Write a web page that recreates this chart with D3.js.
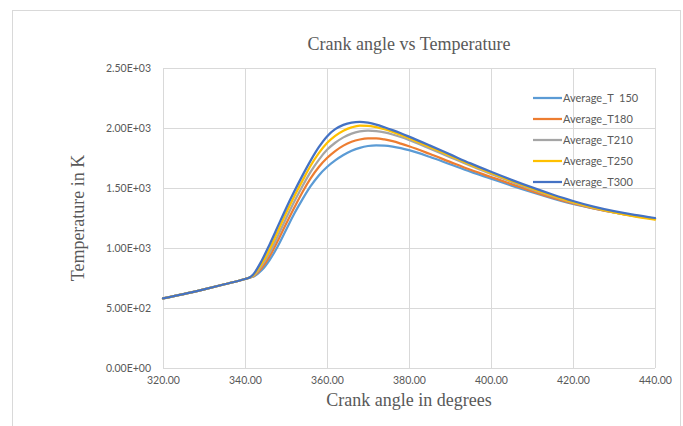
<!DOCTYPE html>
<html>
<head>
<meta charset="utf-8">
<script src="https://cdn.jsdelivr.net/npm/d3@7"></script>
<style>
  html, body { margin: 0; padding: 0; background: #ffffff; }
  svg { display: block; }
</style>
</head>
<body>
<svg id="chart" width="683" height="426"></svg>
<script>
// Crank angle (degrees) at which temperatures were sampled
const crankAngle = [320, 325, 330, 335, 340, 341,
  342, 344, 346, 348, 350, 352, 354, 356, 358, 360, 362, 364, 366, 368, 370,
  372, 374, 376, 378, 380, 385, 390, 395, 400, 405, 410, 415, 420, 425, 430, 435, 440];

// Compression stroke, common to every case
const compression = [580, 615, 655, 698, 742, 752];

// Average in-cylinder temperature (K) for each case
const avgT150 = compression.concat([760, 812, 900, 1015, 1150, 1285, 1405, 1515, 1605, 1675, 1730, 1775, 1810, 1835, 1850,
  1855, 1853, 1845, 1832, 1815, 1760, 1698, 1636, 1578, 1520, 1465, 1414, 1368, 1330, 1297, 1269, 1244]);
const avgT180 = compression.concat([764, 830, 930, 1060, 1200, 1335, 1465, 1580, 1675, 1750, 1808, 1853, 1885, 1904, 1913,
  1913, 1905, 1890, 1870, 1848, 1785, 1718, 1652, 1592, 1532, 1474, 1420, 1372, 1331, 1296, 1267, 1242]);
const avgT210 = compression.concat([768, 850, 960, 1100, 1245, 1385, 1515, 1635, 1735, 1818, 1877, 1922, 1953, 1971, 1978,
  1974, 1963, 1946, 1925, 1900, 1830, 1757, 1685, 1617, 1551, 1489, 1431, 1378, 1334, 1297, 1266, 1241]);
const avgT250 = compression.concat([772, 865, 990, 1140, 1290, 1430, 1560, 1685, 1790, 1875, 1935, 1978, 2005, 2019, 2018,
  2007, 1990, 1968, 1943, 1915, 1843, 1768, 1694, 1625, 1558, 1495, 1436, 1382, 1336, 1297, 1264, 1237]);
const avgT300 = compression.concat([780, 890, 1030, 1180, 1330, 1470, 1603, 1728, 1840, 1930, 1990, 2026, 2045, 2051, 2044,
  2028, 2006, 1982, 1956, 1928, 1855, 1780, 1705, 1635, 1568, 1505, 1446, 1392, 1345, 1307, 1276, 1250]);

const seriesNames = ["Average_T  150", "Average_T180", "Average_T210", "Average_T250", "Average_T300"];
const seriesValues = [avgT150, avgT180, avgT210, avgT250, avgT300];
const seriesColors = ["#5B9BD5", "#ED7D31", "#A5A5A5", "#FFC000", "#4472C4"];

const xTicks = [320, 340, 360, 380, 400, 420, 440];
const yTicks = [0, 500, 1000, 1500, 2000, 2500];

const titleText = "Crank angle vs Temperature";
const xTitle = "Crank angle in degrees";
const yTitle = "Temperature in K";

// ---- layout ----
const svg = d3.select("#chart");
const plot = { left: 163, top: 68, width: 492, height: 300 };
const grey = "#595959";
const gridColor = "#d9d9d9";
const tickFont = "Lato, 'Liberation Sans', sans-serif";
const serifFont = "'Liberation Serif', 'DejaVu Serif', serif";

// outer chart frame
svg.append("rect")
  .attr("x", 12.5).attr("y", 10.5)
  .attr("width", 668).attr("height", 430)
  .attr("fill", "#fff").attr("stroke", gridColor).attr("stroke-width", 1);

const x = d3.scaleLinear().domain([320, 440]).range([plot.left, plot.left + plot.width]);
const y = d3.scaleLinear().domain([0, 2500]).range([plot.top + plot.height, plot.top]);

const g = svg.append("g");

// gridlines and tick labels
const xAxis = d3.axisBottom(x).tickValues(xTicks).tickSize(-plot.height).tickPadding(9)
  .tickFormat(d3.format(".2f"));
g.append("g")
  .attr("transform", `translate(0,${plot.top + plot.height})`)
  .call(xAxis)
  .call(a => a.select(".domain").remove())
  .call(a => a.selectAll("line").attr("stroke", gridColor))
  .call(a => a.selectAll("text").attr("fill", grey)
    .style("font-family", tickFont).style("font-size", "10.5px"));

const expFmt = v => {
  if (v === 0) return "0.00E+00";
  const e = Math.floor(Math.log10(v));
  const m = v / Math.pow(10, e);
  return m.toFixed(2) + "E+" + String(e).padStart(2, "0");
};
const yAxis = d3.axisLeft(y).tickValues(yTicks).tickSize(-plot.width).tickPadding(12)
  .tickFormat(expFmt);
g.append("g")
  .attr("transform", `translate(${plot.left},0)`)
  .call(yAxis)
  .call(a => a.select(".domain").remove())
  .call(a => a.selectAll("line").attr("stroke", gridColor))
  .call(a => a.selectAll("text").attr("fill", grey)
    .style("font-family", tickFont).style("font-size", "10.5px"));

// series lines
const line = d3.line()
  .x((d, i) => x(crankAngle[i]))
  .y(d => y(d))
  .curve(d3.curveMonotoneX);

seriesValues.forEach((vals, k) => {
  g.append("path")
    .datum(vals)
    .attr("fill", "none")
    .attr("stroke", seriesColors[k])
    .attr("stroke-width", 2.25)
    .attr("stroke-linejoin", "round")
    .attr("stroke-linecap", "round")
    .attr("d", line);
});

// title and axis titles
svg.append("text")
  .attr("x", plot.left + plot.width / 2).attr("y", 50)
  .attr("text-anchor", "middle")
  .attr("fill", grey)
  .style("font-family", serifFont).style("font-size", "18px")
  .text(titleText);

svg.append("text")
  .attr("x", plot.left + plot.width / 2).attr("y", 406)
  .attr("text-anchor", "middle")
  .attr("fill", grey)
  .style("font-family", serifFont).style("font-size", "18px")
  .text(xTitle);

svg.append("text")
  .attr("transform", `translate(84,${plot.top + plot.height / 2}) rotate(-90)`)
  .attr("text-anchor", "middle")
  .attr("fill", grey)
  .style("font-family", serifFont).style("font-size", "18px")
  .text(yTitle);

// legend
const legend = svg.append("g");
seriesNames.forEach((name, k) => {
  const ly = 98 + k * 21;
  legend.append("line")
    .attr("x1", 533).attr("x2", 562)
    .attr("y1", ly).attr("y2", ly)
    .attr("stroke", seriesColors[k]).attr("stroke-width", 2.25);
  legend.append("text")
    .attr("x", 563).attr("y", ly)
    .attr("dy", "0.35em")
    .attr("fill", grey)
    .style("font-family", tickFont).style("font-size", "11px")
    .style("white-space", "pre")
    .attr("xml:space", "preserve")
    .text(name);
});
</script>
</body>
</html>
